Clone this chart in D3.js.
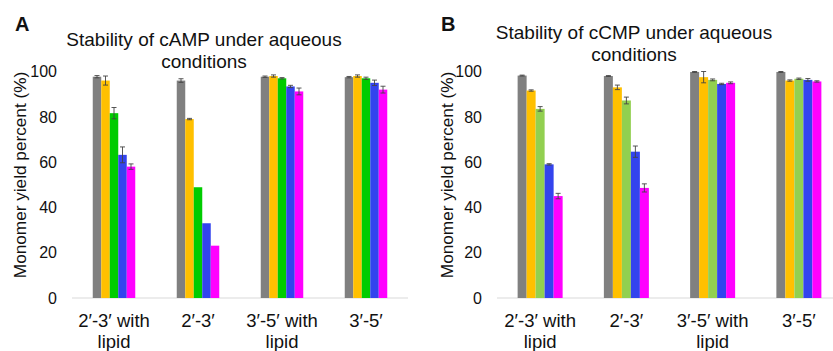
<!DOCTYPE html>
<html>
<head>
<meta charset="utf-8">
<script src="https://cdn.jsdelivr.net/npm/d3@7"></script>
<style>
  body { margin: 0; background: #fff; }
  text { font-family: "Liberation Sans", Arial, sans-serif; fill: #111; }
</style>
</head>
<body>
<svg width="833" height="351"></svg>
<script>
// Data
var groups = ["2′-3′ with lipid", "2′-3′", "3′-5′ with lipid", "3′-5′"]
var series = ["s1", "s2", "s3", "s4", "s5"]
var yTicks = [0, 20, 40, 60, 80, 100]

var campValues = [
  [97.7, 96, 81.6, 63.2, 58],
  [96, 79, 48.9, 33, 23.1],
  [97.7, 98, 97, 93.4, 91.2],
  [97.5, 98, 97, 95, 92]
]
var campErrors = [
  [0.5, 2, 2.5, 3.5, 1.2],
  [0.8, 0.3, 0, 0, 0],
  [0.3, 0.5, 0.3, 0.5, 1.5],
  [0.3, 0.5, 0.5, 1.2, 1.5]
]
var ccmpValues = [
  [98.2, 91.6, 83.5, 59, 45],
  [98, 93, 87.2, 64.6, 48.6],
  [99.8, 97.5, 96.3, 94.5, 95],
  [99.8, 96, 96.8, 96.3, 95.6]
]
var ccmpErrors = [
  [0.2, 0.3, 1, 0.3, 1.2],
  [0.2, 1, 1.5, 2.5, 1.8],
  [0.2, 2.5, 0.4, 0.3, 0.4],
  [0.2, 0.3, 0.3, 0.6, 0.3]
]

var colorsA = ["#808080", "#ffc000", "#00cc00", "#3344ee", "#ff00ff"]
var colorsB = ["#808080", "#ffc000", "#92d050", "#3344ee", "#ff00ff"]

var svg = d3.select("svg")

function panel(opt) {
  var g = svg.append("g")

  var x = d3.scaleBand()
    .domain(groups)
    .range(opt.xRange)
  var y = d3.scaleLinear()
    .domain([0, 100])
    .range([298, 71.5])
  var xs = d3.scaleBand()
    .domain(series)
    .range([0, opt.groupWidth])

  // baseline
  g.append("line")
    .attr("x1", opt.xRange[0]).attr("x2", opt.xRange[1])
    .attr("y1", y(0)).attr("y2", y(0))
    .attr("stroke", "#d9d9d9").attr("stroke-width", 1)

  // y tick labels
  g.selectAll("ytick")
    .data(yTicks)
    .enter()
    .append("text")
      .attr("x", opt.tickX)
      .attr("y", function(d){ return y(d) })
      .attr("dy", "0.36em")
      .attr("text-anchor", "end")
      .style("font-size", "16px")
      .text(function(d){ return d })

  // y axis title
  g.append("text")
    .attr("transform", "translate(" + opt.labelX + "," + 175 + ") rotate(-90)")
    .attr("text-anchor", "middle")
    .style("font-size", "17.2px")
    .text("Monomer yield percent (%)")

  // bars
  var rows = []
  opt.values.forEach(function(vals, i){
    vals.forEach(function(v, j){
      rows.push({ group: groups[i], s: series[j], j: j, v: v, e: opt.errors[i][j] })
    })
  })
  var off = function(d){ return x(d.group) + (x.bandwidth() - opt.groupWidth) / 2 + xs(d.s) }

  g.selectAll("bar")
    .data(rows)
    .enter()
    .append("rect")
      .attr("x", off)
      .attr("y", function(d){ return y(d.v) })
      .attr("width", xs.bandwidth())
      .attr("height", function(d){ return y(0) - y(d.v) })
      .attr("fill", function(d){ return opt.colors[d.j] })

  // error bars
  var eb = g.selectAll("err")
    .data(rows.filter(function(d){ return d.e > 0 }))
    .enter()
    .append("g")
      .attr("stroke", "#444")
      .attr("stroke-width", 0.9)
  eb.append("line")
    .attr("x1", function(d){ return off(d) + xs.bandwidth() / 2 })
    .attr("x2", function(d){ return off(d) + xs.bandwidth() / 2 })
    .attr("y1", function(d){ return y(d.v - d.e) })
    .attr("y2", function(d){ return y(d.v + d.e) })
  eb.selectAll("cap")
    .data(function(d){ return [d.v - d.e, d.v + d.e].map(function(t){ return { d: d, t: t } }) })
    .enter()
    .append("line")
      .attr("x1", function(c){ return off(c.d) + xs.bandwidth() / 2 - 2.5 })
      .attr("x2", function(c){ return off(c.d) + xs.bandwidth() / 2 + 2.5 })
      .attr("y1", function(c){ return y(c.t) })
      .attr("y2", function(c){ return y(c.t) })

  // category labels
  g.selectAll("xlab")
    .data(groups)
    .enter()
    .append("text")
      .attr("x", function(d){ return x(d) + x.bandwidth() / 2 })
      .attr("y", 327)
      .attr("text-anchor", "middle")
      .style("font-size", "18.5px")
      .each(function(d){
        var parts = d.indexOf(" with ") > 0 ? [d.replace(" lipid", ""), "lipid"] : [d]
        var t = d3.select(this)
        parts.forEach(function(p, k){
          t.append("tspan")
            .attr("x", x(d) + x.bandwidth() / 2)
            .attr("dy", k === 0 ? 0 : 20.5)
            .text(p)
        })
      })

  // title
  g.append("text")
    .attr("x", opt.titleX).attr("y", opt.titleY)
    .attr("text-anchor", "middle")
    .style("font-size", "19px")
    .text(opt.title)
  g.append("text")
    .attr("x", opt.titleX).attr("y", opt.titleY + 22)
    .attr("text-anchor", "middle")
    .style("font-size", "19px")
    .text("conditions")

  // panel letter
  g.append("text")
    .attr("x", opt.letterX).attr("y", 31)
    .style("font-size", "20px")
    .style("font-weight", "bold")
    .text(opt.letter)
}

panel({
  values: campValues, errors: campErrors, colors: colorsA,
  xRange: [72, 408], groupWidth: 42.5,
  tickX: 57, labelX: 26,
  title: "Stability of cAMP under aqueous", titleX: 204, titleY: 46,
  letter: "A", letterX: 15
})

panel({
  values: ccmpValues, errors: ccmpErrors, colors: colorsB,
  xRange: [497, 842], groupWidth: 45,
  tickX: 482, labelX: 453,
  title: "Stability of cCMP under aqueous", titleX: 634, titleY: 39,
  letter: "B", letterX: 441
})
</script>
</body>
</html>
